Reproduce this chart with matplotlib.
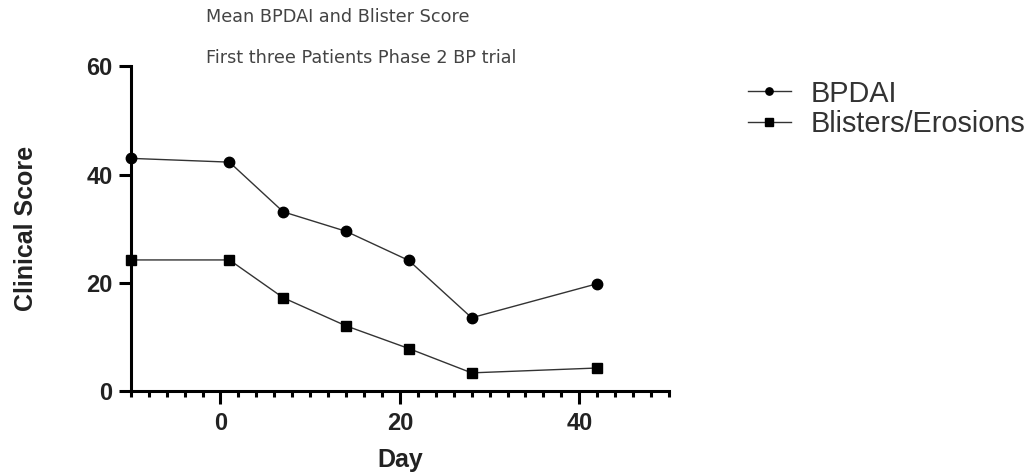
import matplotlib
matplotlib.use("Agg")
import matplotlib.pyplot as plt
from matplotlib.ticker import MultipleLocator

# data
days = [-10, 1, 7, 14, 21, 28, 42]
bpdai = [43.0, 42.3, 33.1, 29.5, 24.1, 13.5, 19.8]
blisters = [24.2, 24.2, 17.2, 12.0, 7.8, 3.3, 4.2]
series_names = ['BPDAI', 'Blisters/Erosions']
title_lines = ['Mean BPDAI and Blister Score', 'First three Patients Phase 2 BP trial']

plt.rcParams['font.family'] = ['Liberation Sans', 'DejaVu Sans']

fig = plt.figure(figsize=(10.27, 4.76), dpi=100)
ax = fig.add_axes([0.1273, 0.1792, 0.5241, 0.6811])

ax.plot(days, bpdai, color='#333333', lw=1.0, marker='o', ms=7.5,
        mfc='black', mec='black', label=series_names[0], clip_on=False, zorder=3)
ax.plot(days, blisters, color='#333333', lw=1.0, marker='s', ms=7.5,
        mfc='black', mec='black', label=series_names[1], clip_on=False, zorder=3)

ax.set_xlim(-10, 50)
ax.set_ylim(0, 60)
ax.xaxis.set_major_locator(MultipleLocator(20))
ax.xaxis.set_minor_locator(MultipleLocator(2))
ax.yaxis.set_major_locator(MultipleLocator(20))

for s in ['top', 'right']:
    ax.spines[s].set_visible(False)
for s in ['left', 'bottom']:
    ax.spines[s].set_linewidth(2.2)

ax.tick_params(axis='both', which='major', length=9, width=2.2, pad=4,
               labelsize=17)
ax.tick_params(axis='x', which='major', pad=6)
ax.tick_params(axis='x', which='minor', length=4.5, width=2.2)
for lab in ax.get_xticklabels() + ax.get_yticklabels():
    lab.set_fontweight('bold')
    lab.set_color('#222222')

ax.set_xlabel('Day', fontsize=18, fontweight='bold', color='#222222', labelpad=10)
ax.set_ylabel('Clinical Score', fontsize=18, fontweight='bold', color='#222222', labelpad=35)

fig.text(206 / 1027, 1 - 17 / 476, title_lines[0], fontsize=12.7, color='#444444',
         family='DejaVu Sans', va='center', ha='left')
fig.text(206 / 1027, 1 - 58 / 476, title_lines[1], fontsize=12.7, color='#444444',
         family='DejaVu Sans', va='center', ha='left')

leg = fig.legend(loc='upper left', bbox_to_anchor=(736 / 1027, 1 - 68 / 476),
                 frameon=False, fontsize=20.8, handlelength=1.5, markerscale=0.7,
                 labelspacing=0.1, handletextpad=0.7, borderaxespad=0)
for t in leg.get_texts():
    t.set_color('#333333')

fig.savefig('out.png', dpi=100)
